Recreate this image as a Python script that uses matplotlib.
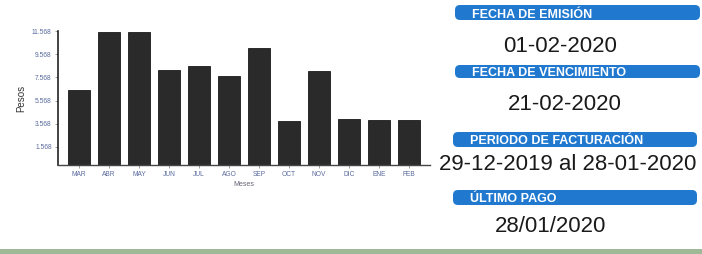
import matplotlib
matplotlib.use('Agg')
import matplotlib.pyplot as plt
from matplotlib.patches import FancyBboxPatch, Rectangle

# monthly consumption (pesos)
meses = ['MAR', 'ABR', 'MAY', 'JUN', 'JUL', 'AGO', 'SEP', 'OCT', 'NOV', 'DIC', 'ENE', 'FEB']
pesos = [6470, 11440, 11440, 8190, 8560, 7700, 10060, 3820, 8130, 3970, 3900, 3880]
y_ticks = [1568, 3568, 5568, 7568, 9568, 11568]
y_labels = ['1.568', '3.568', '5.568', '7.568', '9.568', '11.568']

# right panel
titulos = ['FECHA DE EMISIÓN', 'FECHA DE VENCIMIENTO', 'PERIODO DE FACTURACIÓN', 'ÚLTIMO PAGO']
valores = ['01-02-2020', '21-02-2020', '29-12-2019 al 28-01-2020', '28/01/2020']

W, H = 702, 254
fig = plt.figure(figsize=(W / 100, H / 100), dpi=100)
plt.rcParams['font.family'] = ['Liberation Sans', 'DejaVu Sans']

ax = fig.add_axes([58 / W, 1 - 165 / H, (430 - 58) / W, (165 - 31) / H])
ax.bar(range(len(meses)), pesos, width=0.73, color='#2a2a2a', edgecolor='#1a1a1a', linewidth=0.6)
ax.set_xlim(-0.7, 11.7)
ax.set_ylim(0, 11568)
ax.set_yticks(y_ticks)
ax.set_yticklabels(y_labels)
ax.set_xticks(range(len(meses)))
ax.set_xticklabels(meses)
ax.tick_params(labelsize=4.8, labelcolor='#5a6a9e', color='#777777', length=2.5, width=0.5, pad=2)
for s in ['top', 'right']:
    ax.spines[s].set_visible(False)
ax.spines['left'].set_linewidth(1.2)
ax.spines['bottom'].set_linewidth(1.0)
ax.spines['left'].set_color('#222222')
ax.spines['bottom'].set_color('#444444')
ax.set_ylabel('Pesos', fontsize=7, color='#333333', labelpad=4)
ax.set_xlabel('Meses', fontsize=5, color='#666677', labelpad=2)

# overlay in pixel coords for the info panel
ov = fig.add_axes([0, 0, 1, 1])
ov.set_xlim(0, W)
ov.set_ylim(H, 0)
ov.axis('off')

banners = [(455, 5, 245, 15), (455, 65, 245, 13), (453, 132, 244, 15), (453, 190, 244, 15)]
centros = [(560, 46), (565, 105), (568, 165), (551, 227)]
for (bx, by, bw, bh), t, v, (cx, cy) in zip(banners, titulos, valores, centros):
    ov.add_patch(FancyBboxPatch((bx, by), bw, bh, boxstyle='round,pad=0,rounding_size=5',
                                facecolor='#2079cf', edgecolor='none'))
    ov.text(bx + 17, by + bh / 2 + 0.5, t, color='white', fontsize=9, fontweight='bold',
            va='center_baseline', ha='left')
    ov.text(cx, cy, v, color='#1a1a1a', fontsize=16, va='center', ha='center')

# green strip at the bottom of the scan
ov.add_patch(Rectangle((0, 249), W, 5, facecolor='#9fb996', edgecolor='none'))

fig.savefig('out.png', dpi=100, facecolor='white')
